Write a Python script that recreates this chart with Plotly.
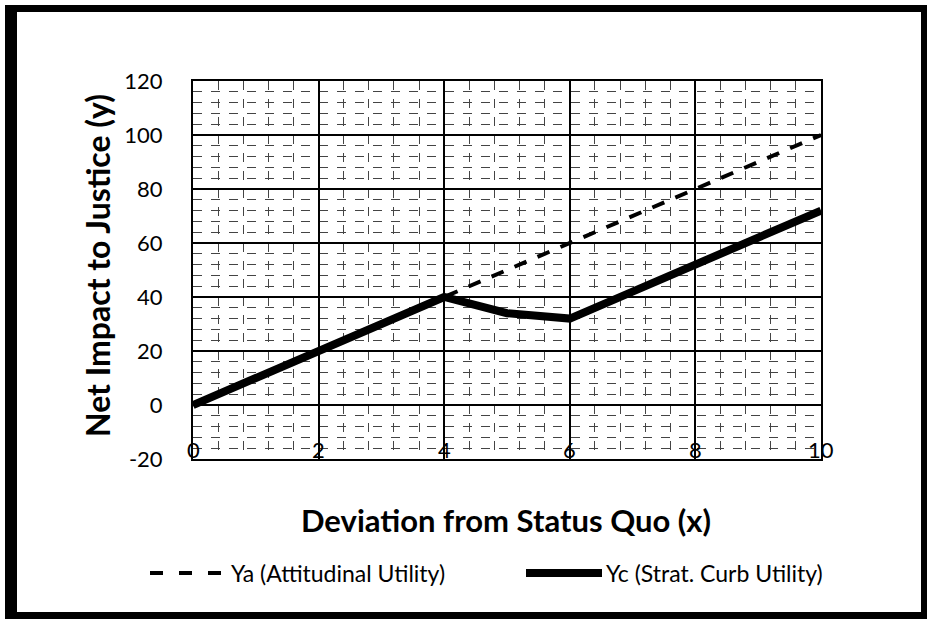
import plotly.graph_objects as go

# ---- data ----
x_vals = [0, 1, 2, 3, 4, 5, 6, 7, 8, 9, 10]
ya_vals = [0, 10, 20, 30, 40, 50, 60, 70, 80, 90, 100]
yc_vals = [0, 10, 20, 30, 40, 34, 32, 42, 52, 62, 72]
x_ticks = [0, 2, 4, 6, 8, 10]
x_tick_labels = ["0", "2", "4", "6", "8", "10"]
y_ticks = [-20, 0, 20, 40, 60, 80, 100, 120]
y_tick_labels = ["-20", "0", "20", "40", "60", "80", "100", "120"]
ya_name = "Ya (Attitudinal Utility)"
yc_name = "Yc (Strat. Curb Utility)"
x_title = "Deviation from Status Quo (x)"
y_title = "Net Impact to Justice (y)"

W, H = 927, 619
L, R, T, B = 193, 821, 81, 459  # plot area in pixels


def px(x):
    return (x - L) / (R - L)


def py(y):
    return (B - y) / (B - T)


FONT = "Lato"

fig = go.Figure()
fig.add_trace(go.Scatter(x=x_vals, y=ya_vals, mode="lines", name=ya_name,
                         line=dict(color="black", width=4, dash="13px,12px"),
                         showlegend=False))
fig.add_trace(go.Scatter(x=x_vals, y=yc_vals, mode="lines", name=yc_name,
                         line=dict(color="black", width=8),
                         showlegend=False))

shapes = []
# outer frame
for (x0, y0, x1, y1) in [(5, 5, 17, 619), (5, 5, 927, 12), (921, 5, 927, 619), (5, 612, 927, 619)]:
    shapes.append(dict(type="rect", xref="paper", yref="paper",
                       x0=px(x0), x1=px(x1), y0=py(y1), y1=py(y0),
                       fillcolor="black", line=dict(width=0), layer="above"))
# legend samples
ly = 573
shapes.append(dict(type="line", xref="paper", yref="paper", x0=px(150), x1=px(221),
                   y0=py(ly), y1=py(ly), line=dict(color="black", width=4, dash="13px,16px")))
shapes.append(dict(type="line", xref="paper", yref="paper", x0=px(526), x1=px(602),
                   y0=py(ly), y1=py(ly), line=dict(color="black", width=8)))

annotations = [
    dict(text=f"<b>{x_title}</b>", xref="paper", yref="paper", x=px(506), y=py(520),
         xanchor="center", yanchor="middle", showarrow=False,
         font=dict(family=FONT, size=31, color="black")),
    dict(text=f"<b>{y_title}</b>", xref="paper", yref="paper", x=px(97), y=py(266),
         xanchor="center", yanchor="middle", showarrow=False, textangle=-90,
         font=dict(family=FONT, size=32, color="black")),
    dict(text=ya_name, xref="paper", yref="paper", x=px(229), y=py(ly),
         xanchor="left", yanchor="middle", showarrow=False,
         font=dict(family=FONT, size=23, color="black")),
    dict(text=yc_name, xref="paper", yref="paper", x=px(604), y=py(ly),
         xanchor="left", yanchor="middle", showarrow=False,
         font=dict(family=FONT, size=23, color="black")),
]
for xv, lab in zip(x_ticks, x_tick_labels):
    annotations.append(dict(text=lab, xref="x", yref="paper", x=xv, y=py(449),
                            xanchor="center", yanchor="middle", showarrow=False,
                            font=dict(family=FONT, size=22, color="black")))

fig.update_layout(
    width=W, height=H,
    margin=dict(l=L, r=W - R, t=T, b=H - B),
    paper_bgcolor="white", plot_bgcolor="white",
    font=dict(family=FONT, color="black"),
    shapes=shapes, annotations=annotations,
    showlegend=False,
)
fig.update_xaxes(range=[0, 10], dtick=2, tick0=0,
                 showgrid=True, gridcolor="black", gridwidth=2,
                 minor=dict(dtick=0.4, showgrid=True, gridcolor="#444", gridwidth=1, griddash="dash"),
                 showline=True, linecolor="black", linewidth=2, mirror=True,
                 zeroline=False, ticks="", showticklabels=False)
fig.update_yaxes(range=[-20, 120], tickvals=y_ticks, ticktext=y_tick_labels,
                 showgrid=True, gridcolor="black", gridwidth=2,
                 minor=dict(dtick=4, tick0=0, showgrid=True, gridcolor="#444", gridwidth=1, griddash="dash"),
                 showline=True, linecolor="black", linewidth=2, mirror=True,
                 zeroline=False, ticks="", ticklabelstandoff=24,
                 tickfont=dict(family=FONT, size=22, color="black"))

fig.write_html("out.html", config={"displayModeBar": False},
               post_script="document.body.style.margin='0';")
